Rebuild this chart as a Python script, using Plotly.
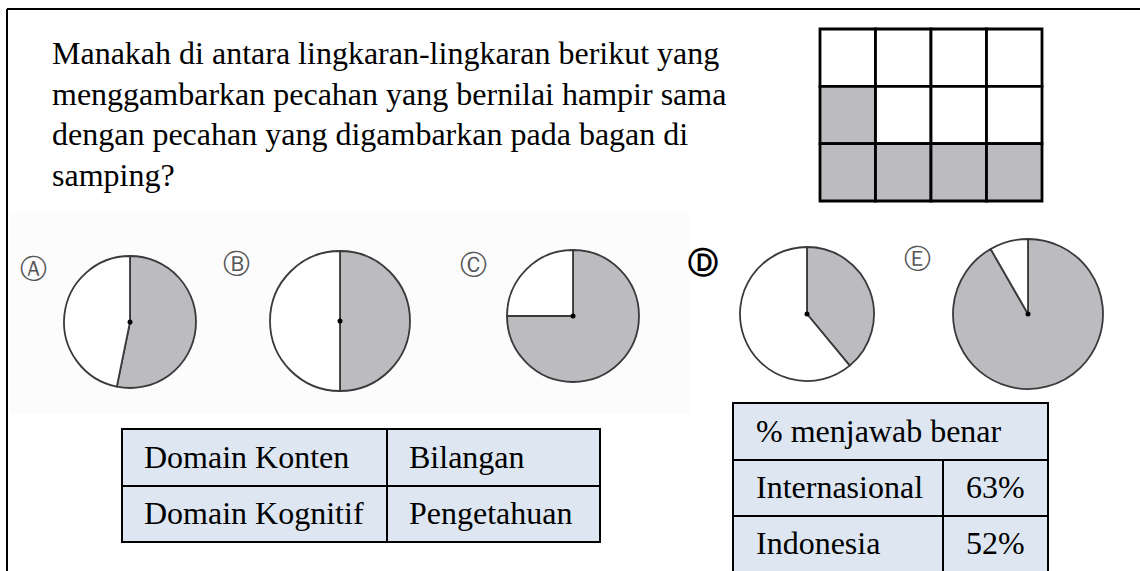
import plotly.graph_objects as go

W, H = 1140, 571

# ---- data ----
question_lines = [
    "Manakah di antara lingkaran-lingkaran berikut yang",
    "menggambarkan pecahan yang bernilai hampir sama",
    "dengan pecahan yang digambarkan pada bagan di",
    "samping?",
]
grid_shaded = [
    [0, 0, 0, 0],
    [1, 0, 0, 0],
    [1, 1, 1, 1],
]
option_labels = ["Ⓐ", "Ⓑ", "Ⓒ", "Ⓓ", "Ⓔ"]
shaded_fraction = [0.532, 0.5, 0.75, 0.39, 0.917]
table_domain = [["Domain Konten", "Bilangan"], ["Domain Kognitif", "Pengetahuan"]]
table_pct_header = "% menjawab benar"
pct_groups = ["Internasional", "Indonesia"]
pct_values = ["63%", "52%"]

# ---- geometry helpers (pixel -> paper) ----
def px(x):
    return x / W

def py(y):
    return 1 - y / H

SERIF = "Liberation Serif, Times New Roman, serif"
FS = 32
GRAY = "#bcbcc0"
TBL = "#dde6f1"

fig = go.Figure()
shapes = []
annotations = []

# faint background of the pasted circle picture
shapes.append(dict(type="rect", xref="paper", yref="paper", x0=px(10), x1=px(690), y0=py(213), y1=py(414),
                   fillcolor="#fcfcfc", line=dict(width=0), layer="below"))

# outer frame (top + left)
shapes.append(dict(type="line", xref="paper", yref="paper", x0=px(7), x1=px(1140), y0=py(9), y1=py(9),
                   line=dict(color="black", width=2)))
shapes.append(dict(type="line", xref="paper", yref="paper", x0=px(7), x1=px(7), y0=py(9), y1=py(571),
                   line=dict(color="black", width=2)))

# question text
for i, t in enumerate(question_lines):
    annotations.append(dict(text=t, x=px(50), y=py(53 + i * 40.6), xref="paper", yref="paper",
                            xanchor="left", yanchor="middle", showarrow=False,
                            font=dict(family=SERIF, size=FS, color="black")))

# grid chart
gx0, gx1, gy0, gy1 = 820, 1042, 29, 201
ncol, nrow = 4, 3
cw = (gx1 - gx0) / ncol
ch = (gy1 - gy0) / nrow
for r in range(nrow):
    for c in range(ncol):
        shapes.append(dict(type="rect", xref="paper", yref="paper",
                           x0=px(gx0 + c * cw), x1=px(gx0 + (c + 1) * cw),
                           y0=py(gy0 + r * ch), y1=py(gy0 + (r + 1) * ch),
                           fillcolor=GRAY if grid_shaded[r][c] else "white",
                           line=dict(color="black", width=2.8), layer="above"))

# pies
centers = [(130, 322, 66), (340, 321, 70), (573, 316, 66), (807, 314, 67), (1028, 314, 75)]
label_pos = [(33, 268), (236, 263), (473, 265), (703, 262), (918, 258)]
for i, ((cx, cy, r), frac) in enumerate(zip(centers, shaded_fraction)):
    fig.add_trace(go.Pie(
        values=[frac, 1 - frac], labels=["shaded", "white"],
        marker=dict(colors=[GRAY, "white"], line=dict(color="#3a3a3a", width=1.8)),
        sort=False, direction="clockwise", rotation=0,
        textinfo="none", hoverinfo="skip", showlegend=False,
        domain=dict(x=[px(cx - r), px(cx + r)], y=[py(cy + r), py(cy - r)]),
    ))
    shapes.append(dict(type="circle", xref="paper", yref="paper",
                       x0=px(cx - 2.5), x1=px(cx + 2.5), y0=py(cy + 2.5), y1=py(cy - 2.5),
                       fillcolor="black", line=dict(color="black", width=0), layer="above"))
    lx, ly = label_pos[i]
    is_d = option_labels[i] == "Ⓓ"
    annotations.append(dict(text=f"<b>{option_labels[i]}</b>" if is_d else option_labels[i],
                            x=px(lx), y=py(ly), xref="paper", yref="paper",
                            xanchor="center", yanchor="middle", showarrow=False,
                            font=dict(family="DejaVu Sans", size=30 if is_d else 27,
                                      color="black" if is_d else "#555555")))

# left table
lt_x0, lt_x1, lt_xm = 122, 600, 387
lt_rows = [429, 486, 542]
shapes.append(dict(type="rect", xref="paper", yref="paper", x0=px(lt_x0), x1=px(lt_x1),
                   y0=py(lt_rows[0]), y1=py(lt_rows[-1]), fillcolor=TBL,
                   line=dict(color="black", width=2)))
shapes.append(dict(type="line", xref="paper", yref="paper", x0=px(lt_x0), x1=px(lt_x1),
                   y0=py(lt_rows[1]), y1=py(lt_rows[1]), line=dict(color="black", width=2)))
shapes.append(dict(type="line", xref="paper", yref="paper", x0=px(lt_xm), x1=px(lt_xm),
                   y0=py(lt_rows[0]), y1=py(lt_rows[-1]), line=dict(color="black", width=2)))
for i, (a, b) in enumerate(table_domain):
    yc = (lt_rows[i] + lt_rows[i + 1]) / 2
    annotations.append(dict(text=a, x=px(142), y=py(yc - 1), xref="paper", yref="paper",
                            xanchor="left", yanchor="middle", showarrow=False,
                            font=dict(family=SERIF, size=FS, color="black")))
    annotations.append(dict(text=b, x=px(407), y=py(yc - 1), xref="paper", yref="paper",
                            xanchor="left", yanchor="middle", showarrow=False,
                            font=dict(family=SERIF, size=FS, color="black")))

# right table
rt_x0, rt_x1, rt_xm = 733, 1048, 943
rt_rows = [403, 460, 516, 571]
shapes.append(dict(type="rect", xref="paper", yref="paper", x0=px(rt_x0), x1=px(rt_x1),
                   y0=py(rt_rows[0]), y1=py(rt_rows[-1] + 5), fillcolor=TBL,
                   line=dict(color="black", width=2)))
for yy in rt_rows[1:3]:
    shapes.append(dict(type="line", xref="paper", yref="paper", x0=px(rt_x0), x1=px(rt_x1),
                       y0=py(yy), y1=py(yy), line=dict(color="black", width=2)))
shapes.append(dict(type="line", xref="paper", yref="paper", x0=px(rt_xm), x1=px(rt_xm),
                   y0=py(rt_rows[1]), y1=py(rt_rows[-1]), line=dict(color="black", width=2)))
annotations.append(dict(text=table_pct_header, x=px(754), y=py((rt_rows[0] + rt_rows[1]) / 2 - 1),
                        xref="paper", yref="paper", xanchor="left", yanchor="middle", showarrow=False,
                        font=dict(family=SERIF, size=FS, color="black")))
for i, (g, v) in enumerate(zip(pct_groups, pct_values)):
    yc = (rt_rows[i + 1] + rt_rows[i + 2]) / 2 - 1
    annotations.append(dict(text=g, x=px(754), y=py(yc), xref="paper", yref="paper",
                            xanchor="left", yanchor="middle", showarrow=False,
                            font=dict(family=SERIF, size=FS, color="black")))
    annotations.append(dict(text=v, x=px((rt_xm + rt_x1) / 2), y=py(yc), xref="paper", yref="paper",
                            xanchor="center", yanchor="middle", showarrow=False,
                            font=dict(family=SERIF, size=FS, color="black")))

fig.update_layout(
    width=W, height=H, margin=dict(l=0, r=0, t=0, b=0),
    paper_bgcolor="white", plot_bgcolor="white",
    shapes=shapes, annotations=annotations,
    xaxis=dict(visible=False), yaxis=dict(visible=False),
)
fig.write_html("out.html", config={"displayModeBar": False},
               post_script="document.body.style.margin='0';document.body.style.overflow='hidden';")
